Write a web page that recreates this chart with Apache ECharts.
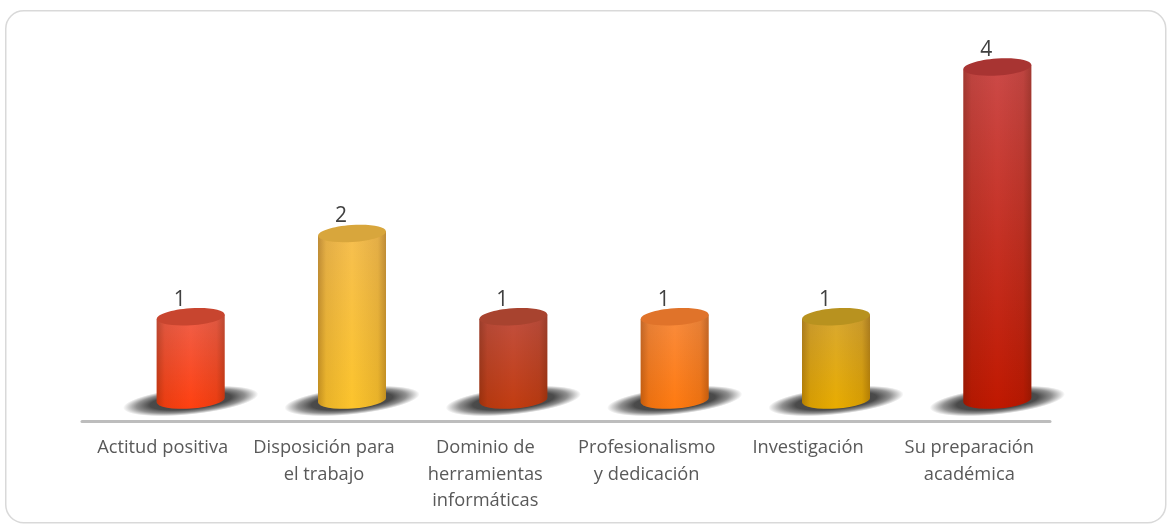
<!DOCTYPE html>
<html>
<head>
<meta charset="utf-8">
<style>
  html, body { margin: 0; padding: 0; background: #fff; }
  #grafica { width: 1171px; height: 527px; }
</style>
<script src="https://cdn.jsdelivr.net/npm/echarts@6/dist/echarts.min.js"></script>
</head>
<body>
<div id="grafica"></div>
<script>
const categorias = [
  'Actitud positiva',
  'Disposición para\nel trabajo',
  'Dominio de\nherramientas\ninformáticas',
  'Profesionalismo\ny dedicación',
  'Investigación',
  'Su preparación\nacadémica'
];
const valores = [1, 2, 1, 1, 1, 4];

// colores de cada cilindro: tapa, parte alta, parte baja
const coloresTapa = ['#c8452f', '#d8a63c', '#a8432f', '#e0732a', '#b8921f', '#a83432'];
const coloresAlto = ['#f0604a', '#f6bf50', '#c25040', '#f98c3e', '#d8a832', '#cc4a48'];
const coloresBajo = ['#ff4010', '#fcc42c', '#c23c10', '#ff7a10', '#e8ac00', '#c01800'];

const fuente = '"Open Sans", sans-serif';
const desplazamiento = 28; // los cilindros van corridos respecto a la etiqueta
const radioX = 34;
const radioY = 8.5;
const giro = 4 * Math.PI / 180;

const myChart = echarts.init(document.getElementById('grafica'));

function dibujarCilindro(params, api) {
  const i = api.value(0);
  const cima = api.coord([i, api.value(1)]);
  const base = api.coord([i, 0]);
  const cx = cima[0] + desplazamiento;
  const dy = radioX * Math.sin(giro);

  // cuerpo: baja por la izquierda, arco inferior y sube por la derecha
  const cuerpo = 'M' + (cx - radioX) + ' ' + (cima[1] + dy) +
    ' L' + (cx - radioX) + ' ' + (base[1] + dy) +
    ' A' + radioX + ' ' + radioY + ' -4 0 0 ' + (cx + radioX) + ' ' + (base[1] - dy) +
    ' L' + (cx + radioX) + ' ' + (cima[1] - dy) + ' Z';

  return {
    type: 'group',
    children: [
      {
        // sombra en el suelo
        type: 'circle',
        x: cx,
        y: base[1] + 1,
        rotation: giro * 1.5,
        scaleX: 1,
        scaleY: 0.2,
        shape: { cx: 0, cy: 0, r: 68 },
        style: {
          fill: new echarts.graphic.RadialGradient(0.5, 0.5, 0.5, [
            { offset: 0, color: 'rgba(60,60,60,1)' },
            { offset: 0.6, color: 'rgba(65,65,65,0.95)' },
            { offset: 0.8, color: 'rgba(70,70,70,0.6)' },
            { offset: 1, color: 'rgba(70,70,70,0)' }
          ])
        }
      },
      {
        type: 'path',
        shape: { pathData: cuerpo },
        style: {
          fill: new echarts.graphic.LinearGradient(0, 0, 0, 1, [
            { offset: 0, color: coloresAlto[i] },
            { offset: 1, color: coloresBajo[i] }
          ])
        }
      },
      {
        // oscurece los bordes para dar volumen
        type: 'path',
        shape: { pathData: cuerpo },
        style: {
          fill: new echarts.graphic.LinearGradient(0, 0, 1, 0, [
            { offset: 0, color: 'rgba(60,20,0,0.3)' },
            { offset: 0.12, color: 'rgba(60,20,0,0.1)' },
            { offset: 0.5, color: 'rgba(60,20,0,0)' },
            { offset: 0.88, color: 'rgba(60,20,0,0.1)' },
            { offset: 1, color: 'rgba(60,20,0,0.3)' }
          ])
        }
      },
      {
        // tapa
        type: 'ellipse',
        x: cx,
        y: cima[1],
        rotation: giro,
        shape: { cx: 0, cy: 0, rx: radioX, ry: radioY },
        style: { fill: coloresTapa[i] }
      },
      {
        type: 'text',
        x: cx - 11,
        y: cima[1] - 17,
        style: {
          text: String(api.value(1)),
          font: '21px ' + fuente,
          fill: '#404040',
          align: 'center',
          verticalAlign: 'middle'
        }
      }
    ]
  };
}

let option = {
  backgroundColor: '#fff',
  animation: false,
  grid: { left: 82, right: 121, top: 67, bottom: 127 },
  // marco redondeado de la tarjeta
  graphic: [
    {
      type: 'rect',
      left: 5,
      top: 10,
      shape: { width: 1160, height: 512, r: 18 },
      style: { fill: '#fff', stroke: '#d9d9d9', lineWidth: 1.5 },
      z: -10
    }
  ],
  xAxis: {
    type: 'category',
    data: categorias,
    offset: 21,
    axisLine: { show: true, onZero: false, lineStyle: { color: '#bdbdbd', width: 3 } },
    axisTick: { show: false },
    axisLabel: {
      interval: 0,
      margin: 14,
      color: '#595959',
      fontFamily: fuente,
      fontSize: 18.3,
      lineHeight: 26.5
    }
  },
  yAxis: { type: 'value', min: 0, max: 4, show: false },
  series: [
    {
      type: 'custom',
      clip: false,
      renderItem: dibujarCilindro,
      encode: { x: 0, y: 1 },
      data: valores.map((v, i) => [i, v])
    }
  ]
};

myChart.setOption(option);
</script>
</body>
</html>
